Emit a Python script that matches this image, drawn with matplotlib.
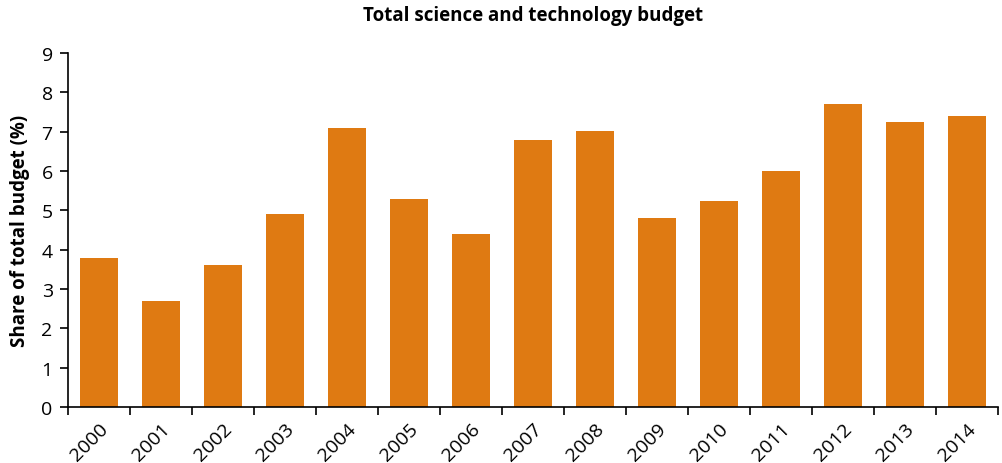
import matplotlib
matplotlib.use("Agg")
import matplotlib.pyplot as plt
from matplotlib.ticker import FixedLocator, NullFormatter
import numpy as np

years = ["2000", "2001", "2002", "2003", "2004", "2005", "2006", "2007",
         "2008", "2009", "2010", "2011", "2012", "2013", "2014"]
share = [3.8, 2.7, 3.6, 4.9, 7.1, 5.3, 4.4, 6.8, 7.02, 4.8, 5.25, 6.0, 7.7, 7.25, 7.4]

title = "Total science and technology budget"
ylabel = "Share of total budget (%)"
bar_color = "#DF7A12"

plt.rcParams["font.family"] = ["Open Sans", "DejaVu Sans"]

fig = plt.figure(figsize=(10.02, 4.64), dpi=100)
ax = fig.add_axes([68 / 1002, 1 - 408 / 464, 930 / 1002, 354 / 464])

x = np.arange(len(years))
ax.bar(x, share, width=0.61, color=bar_color, zorder=2)

ax.set_xlim(-0.5, len(years) - 0.5)
ax.set_ylim(0, 9)
ax.set_yticks(range(0, 10))
ax.tick_params(axis="y", labelsize=14, length=6, width=1.2, direction="out", pad=5)

# category labels centred under bars, tick marks on category boundaries
ax.set_xticks(x)
ax.set_xticklabels(years, rotation=45, ha="right", rotation_mode="anchor", fontsize=14)
ax.tick_params(axis="x", which="major", length=0, pad=9)
ax.xaxis.set_minor_locator(FixedLocator(np.arange(-0.5, len(years), 1.0)))
ax.xaxis.set_minor_formatter(NullFormatter())
ax.tick_params(axis="x", which="minor", length=6, width=1.2, direction="out")

for side in ("top", "right"):
    ax.spines[side].set_visible(False)
for side in ("left", "bottom"):
    ax.spines[side].set_linewidth(1.2)

ax.set_ylabel(ylabel, fontsize=13.5, fontweight="bold", labelpad=8)
fig.text(0.5 * (68 + 998) / 1002, 1 - 16 / 464, title, ha="center", va="center",
         fontsize=13.5, fontweight="bold")

fig.savefig("out.png", dpi=100)
